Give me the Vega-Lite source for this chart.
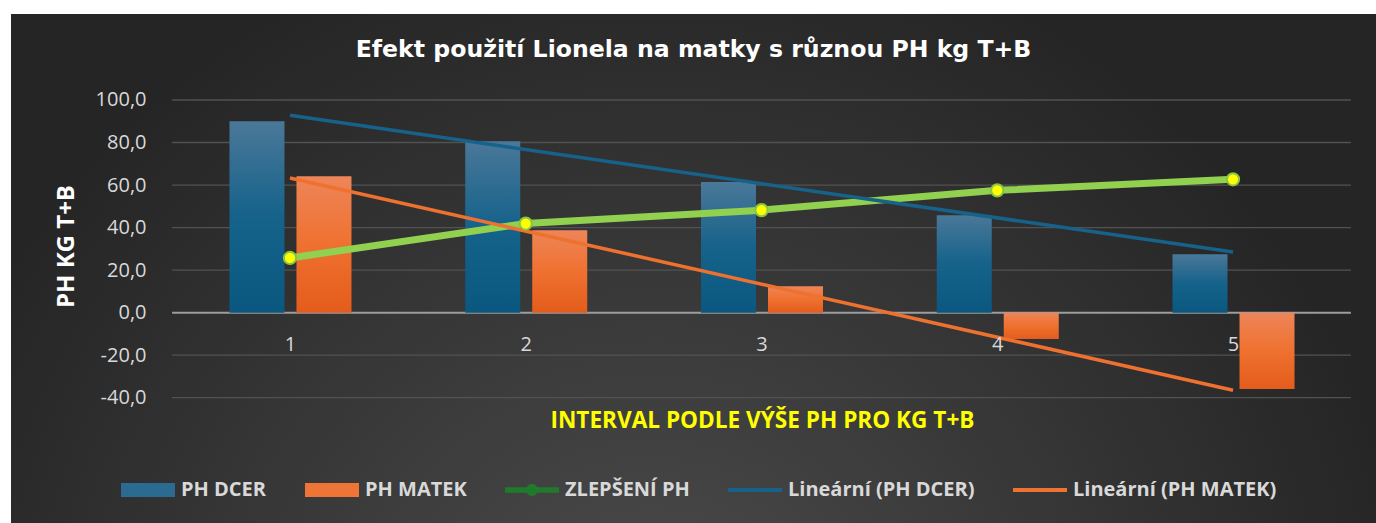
{
  "$schema": "https://vega.github.io/schema/vega-lite/v6.json",
  "width": 1376,
  "height": 523,
  "autosize": {"type": "fit", "contains": "padding"},
  "padding": {"left": 11, "top": 14, "right": 0, "bottom": 0},
  "background": "#ffffff",
  "config": {"view": {"stroke": null}, "font": "Open Sans"},
  "title": {
    "text": "Efekt použití Lionela na matky s různou PH kg T+B",
    "font": "DejaVu Sans",
    "fontSize": 23.6,
    "fontWeight": "bold",
    "color": "#ffffff",
    "anchor": "middle",
    "frame": "group",
    "orient": "top",
    "offset": -45,
    "dy": 22,
    "baseline": "alphabetic"
  },
  "datasets": {
    "bars": [
      {"cat": 1, "series": "PH DCER", "v": 90.0},
      {"cat": 2, "series": "PH DCER", "v": 80.6},
      {"cat": 3, "series": "PH DCER", "v": 61.4},
      {"cat": 4, "series": "PH DCER", "v": 45.8},
      {"cat": 5, "series": "PH DCER", "v": 27.4},
      {"cat": 1, "series": "PH MATEK", "v": 64.1},
      {"cat": 2, "series": "PH MATEK", "v": 38.7},
      {"cat": 3, "series": "PH MATEK", "v": 12.4},
      {"cat": 4, "series": "PH MATEK", "v": -12.4},
      {"cat": 5, "series": "PH MATEK", "v": -35.9}
    ],
    "zl": [
      {"cat": 1, "series": "ZLEPŠENÍ PH", "v": 25.7},
      {"cat": 2, "series": "ZLEPŠENÍ PH", "v": 41.9},
      {"cat": 3, "series": "ZLEPŠENÍ PH", "v": 48.2},
      {"cat": 4, "series": "ZLEPŠENÍ PH", "v": 57.5},
      {"cat": 5, "series": "ZLEPŠENÍ PH", "v": 62.7}
    ],
    "trend": [
      {"cat": 1, "series": "Lineární (PH DCER)", "v": 92.8},
      {"cat": 5, "series": "Lineární (PH DCER)", "v": 28.5},
      {"cat": 1, "series": "Lineární (PH MATEK)", "v": 63.3},
      {"cat": 5, "series": "Lineární (PH MATEK)", "v": -36.5}
    ],
    "grid": [
      {"v": -40}, {"v": -20}, {"v": 20}, {"v": 40}, {"v": 60}, {"v": 80}, {"v": 100}
    ],
    "zero": [{"v": 0}],
    "legend": [
      {"series": "PH DCER"},
      {"series": "PH MATEK"},
      {"series": "ZLEPŠENÍ PH"},
      {"series": "Lineární (PH DCER)"},
      {"series": "Lineární (PH MATEK)"}
    ],
    "bg": [{"bg": "pozadí"}]
  },
  "layer": [
    {
      "data": {"name": "bg"},
      "mark": {
        "type": "rect",
        "fill": {
          "gradient": "radial",
          "x1": 0.47, "y1": 0.8, "r1": 0,
          "x2": 0.47, "y2": 0.8, "r2": 0.56,
          "stops": [
            {"offset": 0, "color": "#4d4d4d"},
            {"offset": 1, "color": "#252525"}
          ]
        }
      },
      "encoding": {}
    },
    {
      "data": {"name": "grid"},
      "mark": {"type": "rule", "color": "#525252", "strokeWidth": 1.3},
      "encoding": {
        "x": {
          "datum": 0.5,
          "type": "quantitative",
          "scale": {"domain": [-0.1621, 5.5853], "nice": false, "zero": false},
          "axis": {
            "title": "INTERVAL PODLE VÝŠE PH PRO KG T+B",
            "zindex": 1,
            "values": [1, 2, 3, 4, 5],
            "format": "d",
            "orient": "bottom",
            "offset": -210.7,
            "domain": false,
            "ticks": false,
            "grid": false,
            "labelAngle": 0,
            "labelPadding": 22,
            "labelFont": "Open Sans",
            "labelFontSize": 20,
            "labelColor": "#d9d9d9",
            "titleFont": "Open Sans",
            "titleFontSize": 22.6,
            "titleFontWeight": "bold",
            "titleColor": "#ffff00",
            "titleX": 751,
            "titleY": 114.7,
            "titleBaseline": "alphabetic",
            "titleAlign": "center"
          }
        },
        "x2": {"datum": 5.5},
        "y": {
          "field": "v",
          "type": "quantitative",
          "scale": {"domain": [-98.93, 140.44], "nice": false, "zero": false},
          "axis": {
            "title": "PH KG T+B",
            "zindex": 1,
            "values": [-40, -20, 0, 20, 40, 60, 80, 100],
            "labelExpr": "replace(replace(format(datum.value, '.1f'), '.', ','), '\u2212', '-')",
            "orient": "left",
            "offset": -135,
            "labelPadding": 0,
            "domain": false,
            "ticks": false,
            "grid": false,
            "labelFont": "Open Sans",
            "labelFontSize": 20,
            "labelColor": "#d9d9d9",
            "titleFont": "Open Sans",
            "titleFontSize": 24,
            "titleFontWeight": "bold",
            "titleColor": "#ffffff",
            "titleX": -73,
            "titleY": 232,
            "titleAngle": 270,
            "titleBaseline": "alphabetic",
            "titleAlign": "center"
          }
        }
      }
    },
    {
      "data": {"name": "zero"},
      "mark": {"type": "rule", "color": "#9d9d9d", "strokeWidth": 2},
      "encoding": {
        "x": {"datum": 0.5, "type": "quantitative"},
        "x2": {"datum": 5.5},
        "y": {"field": "v", "type": "quantitative"}
      }
    },
    {
      "data": {"name": "bars"},
      "transform": [{"filter": "datum.series == 'PH DCER'"}],
      "mark": {
        "type": "bar",
        "orient": "vertical",
        "width": 55,
        "xOffset": -33,
        "fill": {
          "gradient": "linear", "x1": 0, "y1": 0, "x2": 0, "y2": 1,
          "stops": [
            {"offset": 0, "color": "#4a7898"},
            {"offset": 0.5, "color": "#15628b"},
            {"offset": 1, "color": "#0a5780"}
          ]
        }
      },
      "encoding": {
        "x": {"field": "cat", "type": "quantitative"},
        "y": {"field": "v", "type": "quantitative"}
      }
    },
    {
      "data": {"name": "bars"},
      "transform": [{"filter": "datum.series == 'PH MATEK'"}],
      "mark": {
        "type": "bar",
        "orient": "vertical",
        "width": 55,
        "xOffset": 34,
        "fill": {
          "gradient": "linear", "x1": 0, "y1": 0, "x2": 0, "y2": 1,
          "stops": [
            {"offset": 0, "color": "#ee8558"},
            {"offset": 0.5, "color": "#ef7130"},
            {"offset": 1, "color": "#e45c1b"}
          ]
        }
      },
      "encoding": {
        "x": {"field": "cat", "type": "quantitative"},
        "y": {"field": "v", "type": "quantitative"}
      }
    },
    {
      "data": {"name": "zl"},
      "mark": {"type": "line", "color": "#92d050", "strokeWidth": 7},
      "encoding": {
        "x": {"field": "cat", "type": "quantitative"},
        "y": {"field": "v", "type": "quantitative"}
      }
    },
    {
      "data": {"name": "trend"},
      "transform": [{"filter": "datum.series == 'Lineární (PH DCER)'"}],
      "mark": {"type": "line", "color": "#17628a", "strokeWidth": 3.5},
      "encoding": {
        "x": {"field": "cat", "type": "quantitative"},
        "y": {"field": "v", "type": "quantitative"}
      }
    },
    {
      "data": {"name": "trend"},
      "transform": [{"filter": "datum.series == 'Lineární (PH MATEK)'"}],
      "mark": {"type": "line", "color": "#ee7130", "strokeWidth": 3.5},
      "encoding": {
        "x": {"field": "cat", "type": "quantitative"},
        "y": {"field": "v", "type": "quantitative"}
      }
    },
    {
      "data": {"name": "zl"},
      "mark": {"type": "point", "filled": true, "fill": "#ffff00", "stroke": "#86c546", "strokeWidth": 2, "size": 150, "opacity": 1},
      "encoding": {
        "x": {"field": "cat", "type": "quantitative"},
        "y": {"field": "v", "type": "quantitative"}
      }
    },
    {
      "data": {"name": "legend"},
      "mark": {"type": "point", "filled": true, "opacity": 0},
      "encoding": {
        "color": {
          "field": "series",
          "type": "nominal",
          "scale": {
            "domain": ["PH DCER", "PH MATEK", "ZLEPŠENÍ PH", "Lineární (PH DCER)", "Lineární (PH MATEK)"],
            "range": ["#2b6b92", "#ee7536", "#1f7a2b", "#17628a", "#ee7331"]
          },
          "legend": {
            "orient": "none",
            "legendX": 110,
            "legendY": 449,
            "direction": "horizontal",
            "title": null,
            "symbolSize": 2916,
            "symbolOpacity": 1,
            "symbolStrokeWidth": 0,
            "labelFont": "Open Sans",
            "labelFontSize": 20,
            "labelFontWeight": "bold",
            "labelColor": "#d9d9d9",
            "labelLimit": 400,
            "labelOffset": 6,
            "columnPadding": 38,
            "encode": {"symbols": {"update": {"opacity": {"value": 1}, "fillOpacity": {"value": 1}}}}
          }
        },
        "shape": {
          "field": "series",
          "type": "nominal",
          "scale": {
            "domain": ["PH DCER", "PH MATEK", "ZLEPŠENÍ PH", "Lineární (PH DCER)", "Lineární (PH MATEK)"],
            "range": [
              "M-1,-0.26L1,-0.26L1,0.26L-1,0.26Z",
              "M-1,-0.26L1,-0.26L1,0.26L-1,0.26Z",
              "M-1,-0.1L1,-0.1L1,0.1L-1,0.1Z M-0.22,0 A0.22,0.22 0 1 1 0.22,0 A0.22,0.22 0 1 1 -0.22,0 Z",
              "M-1,-0.07L1,-0.07L1,0.07L-1,0.07Z",
              "M-1,-0.07L1,-0.07L1,0.07L-1,0.07Z"
            ]
          }
        }
      }
    }
  ]
}
